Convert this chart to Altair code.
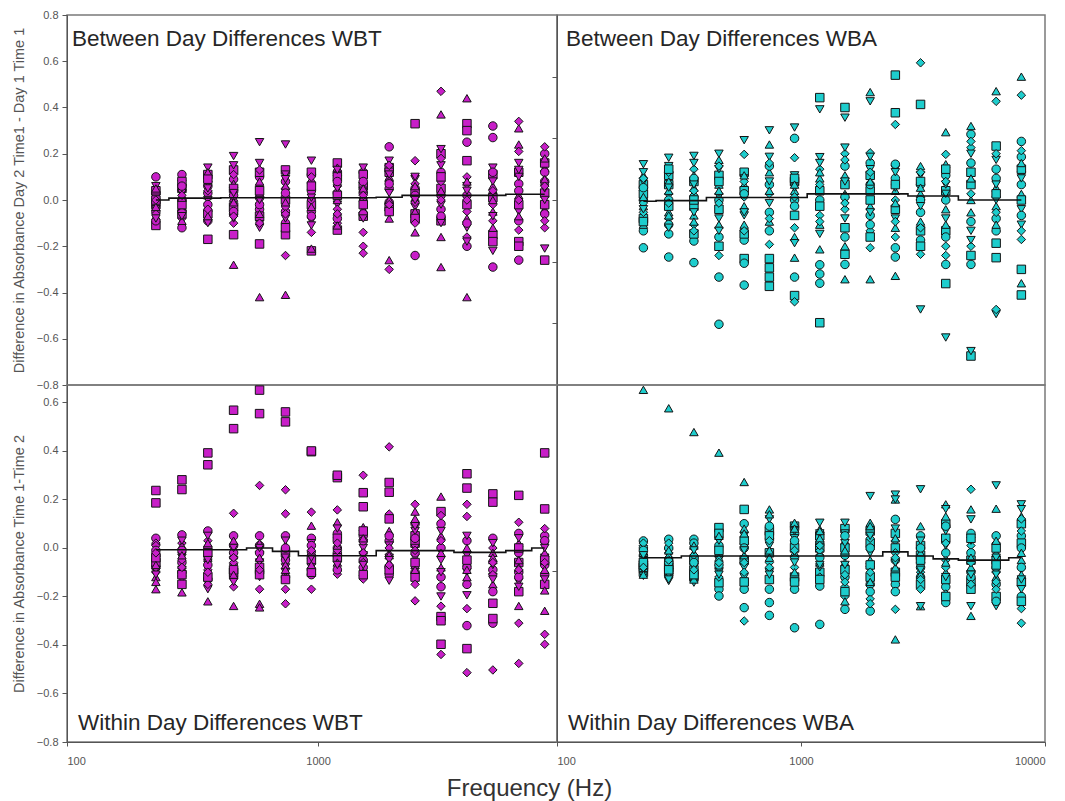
import altair as alt
import pandas as pd

# Test frequencies (Hz), one column of points per frequency
FREQS = [226, 287, 364, 461, 585, 742, 941, 1194, 1514, 1921, 2436, 3090, 3920, 4972, 6306, 8000]

# Marker shape of each subject, repeating every five subjects
SHAPES = ["circle", "square", "triangle-up", "triangle-down", "diamond"]

# Per-frequency differences for 20 subjects (subject j uses SHAPES[j % 5])
WBT_BETWEEN = [
    [0.10, -0.11, 0.02, 0.06, -0.01, 0.03, -0.02, -0.07, -0.04, 0.03, -0.05, 0.04, 0.05, 0.01, -0.06, -0.09, 0.00, -0.03, -0.08, 0.00],
    [0.11, 0.05, -0.03, 0.07, -0.08, -0.12, -0.06, 0.02, -0.01, 0.04, 0.00, 0.08, -0.09, 0.03, -0.05, 0.06, -0.02, 0.01, -0.07, 0.02],
    [0.06, -0.17, 0.02, 0.14, -0.05, -0.09, 0.11, -0.03, -0.10, 0.08, 0.03, -0.06, 0.12, 0.00, 0.04, -0.02, 0.09, -0.07, 0.05, -0.04],
    [0.09, -0.15, -0.28, 0.19, 0.04, -0.06, 0.13, 0.01, 0.15, -0.10, 0.02, -0.03, 0.07, -0.08, 0.11, -0.05, 0.05, -0.01, 0.03, -0.07],
    [0.10, -0.19, -0.42, 0.25, 0.06, -0.04, 0.12, 0.03, 0.16, -0.09, 0.01, -0.07, 0.08, -0.12, 0.13, -0.02, 0.04, -0.06, 0.00, -0.10],
    [0.08, -0.15, -0.41, 0.24, -0.24, -0.05, 0.13, 0.02, 0.11, 0.05, -0.10, 0.00, 0.06, -0.08, -0.03, 0.03, -0.12, -0.01, 0.09, -0.06],
    [0.11, -0.22, -0.21, 0.17, 0.07, -0.05, 0.12, 0.02, -0.09, -0.14, 0.04, -0.02, 0.09, -0.11, 0.00, -0.07, 0.06, -0.03, 0.01, 0.10],
    [0.12, 0.16, -0.05, 0.09, -0.10, 0.03, -0.13, 0.14, -0.02, 0.06, -0.08, 0.10, 0.00, 0.05, -0.04, 0.08, 0.02, -0.11, 0.13, -0.06],
    [0.12, 0.06, -0.04, 0.14, -0.14, 0.03, -0.07, 0.09, -0.01, -0.20, -0.06, 0.11, 0.01, 0.04, -0.23, 0.08, -0.02, 0.05, -0.08, 0.02],
    [0.23, 0.14, -0.26, 0.17, -0.30, 0.05, -0.03, 0.10, -0.06, 0.08, -0.01, 0.12, -0.08, 0.03, 0.15, 0.07, -0.05, 0.00, 0.11, -0.02],
    [-0.24, 0.33, -0.14, 0.09, 0.17, 0.05, -0.06, 0.01, -0.03, 0.07, -0.09, 0.03, -0.05, 0.10, -0.01, 0.02, -0.08, 0.06, 0.00, -0.10],
    [0.12, 0.20, 0.37, 0.15, 0.47, -0.04, 0.05, -0.16, 0.22, 0.08, 0.02, -0.09, -0.29, -0.02, 0.18, -0.07, 0.10, 0.04, -0.10, 0.00],
    [0.25, 0.33, 0.44, 0.06, 0.10, -0.20, 0.30, -0.42, -0.12, -0.05, 0.02, 0.17, -0.08, 0.04, -0.16, -0.10, -0.02, 0.08, -0.18, 0.00],
    [0.32, 0.11, -0.05, 0.14, 0.03, 0.27, -0.15, 0.06, -0.22, -0.09, -0.29, 0.01, -0.12, 0.08, -0.02, 0.12, -0.18, 0.00, -0.07, 0.04],
    [-0.26, -0.18, 0.31, 0.16, 0.34, 0.07, -0.20, 0.24, -0.05, 0.21, -0.09, 0.12, 0.02, 0.10, -0.13, 0.04, -0.02, -0.07, 0.13, 0.00],
    [0.20, -0.26, 0.14, -0.21, 0.23, 0.08, 0.16, -0.04, 0.11, -0.12, -0.06, 0.03, 0.18, 0.05, -0.09, 0.12, -0.02, 0.09, 0.00, 0.06],
]
WBT_BETWEEN_MEAN = [0.0, 0.008, 0.008, 0.01, 0.01, 0.01, 0.01, 0.01, 0.01, 0.012, 0.02, 0.02, 0.02, 0.02, 0.025, 0.025]

WBA_BETWEEN = [
    [-0.155, 0.05, -0.02, 0.116, 0.03, -0.10, -0.06, 0.08, 0.09, -0.04, 0.00, 0.02, -0.08, 0.06, -0.01, 0.04, -0.07, 0.01, -0.03, 0.07],
    [-0.185, 0.08, -0.04, 0.137, 0.02, -0.11, 0.05, 0.03, 0.11, -0.06, -0.08, -0.02, 0.06, -0.09, 0.09, 0.00, 0.10, -0.05, 0.04, -0.01],
    [-0.203, 0.06, -0.05, 0.143, 0.10, -0.133, -0.02, 0.04, 0.12, -0.08, 0.01, -0.11, 0.08, -0.04, 0.03, 0.07, 0.00, -0.07, 0.05, -0.10],
    [-0.403, 0.08, 0.13, 0.15, -0.18, -0.25, -0.03, 0.05, 0.10, 0.02, -0.12, 0.06, -0.08, -0.06, 0.11, 0.00, -0.15, 0.03, -0.10, -0.01],
    [-0.276, -0.19, 0.05, 0.194, 0.148, -0.205, 0.09, -0.02, 0.07, 0.01, -0.13, 0.03, -0.08, -0.05, 0.06, 0.02, -0.11, 0.08, -0.04, -0.10],
    [0.05, -0.19, 0.18, 0.226, -0.144, -0.04, -0.22, 0.09, 0.14, 0.02, 0.11, -0.25, -0.07, 0.06, 0.12, -0.10, -0.28, 0.03, -0.01, -0.06],
    [0.20, 0.06, -0.187, 0.235, 0.137, -0.25, -0.31, 0.03, 0.08, -0.33, 0.00, -0.05, -0.12, 0.04, -0.09, -0.02, 0.07, 0.05, -0.14, 0.01],
    [-0.21, 0.332, -0.16, 0.294, 0.10, -0.24, -0.398, 0.07, 0.139, -0.05, -0.27, 0.03, -0.08, 0.12, 0.05, 0.00, -0.02, 0.09, -0.11, -0.07],
    [-0.209, 0.30, -0.257, 0.267, 0.15, 0.11, 0.05, 0.02, 0.17, -0.03, -0.12, -0.09, 0.08, -0.06, 0.13, 0.01, -0.176, -0.15, 0.06, -0.01],
    [0.12, 0.08, 0.35, 0.32, 0.153, -0.05, 0.03, -0.257, 0.10, -0.10, 0.05, -0.12, -0.02, 0.14, -0.155, -0.08, 0.00, 0.06, -0.04, 0.09],
    [-0.185, 0.405, -0.246, 0.10, 0.245, 0.07, 0.283, 0.03, -0.06, -0.12, 0.116, -0.03, -0.09, 0.04, 0.00, -0.155, 0.05, -0.01, 0.09, -0.07],
    [0.05, 0.31, 0.11, -0.355, 0.445, -0.04, -0.10, 0.02, 0.08, -0.176, -0.13, 0.06, -0.07, -0.01, 0.09, 0.00, -0.15, 0.04, -0.02, -0.09],
    [0.08, -0.271, 0.22, -0.446, 0.148, -0.209, 0.03, 0.116, -0.06, -0.15, 0.00, -0.10, -0.03, 0.05, -0.18, -0.12, 0.10, -0.08, 0.02, 0.06],
    [0.213, -0.506, 0.24, -0.49, 0.17, 0.12, 0.05, -0.04, 0.15, -0.15, -0.209, 0.09, 0.00, -0.10, 0.02, -0.07, -0.18, 0.07, -0.13, 0.19],
    [0.10, 0.175, 0.353, -0.37, 0.32, -0.06, -0.187, 0.04, 0.13, -0.355, 0.07, -0.14, -0.02, 0.00, 0.15, -0.10, 0.02, -0.08, 0.05, -0.04],
    [0.19, -0.225, 0.40, 0.08, 0.34, 0.14, -0.308, -0.27, -0.03, 0.16, 0.05, 0.10, 0.02, -0.08, -0.128, -0.05, 0.00, 0.12, 0.07, -0.10],
]
WBA_BETWEEN_MEAN = [-0.004, -0.002, -0.002, 0.008, 0.008, 0.008, 0.008, 0.02, 0.02, 0.02, 0.02, 0.013, 0.013, 0.0, 0.0, 0.0]

WBT_WITHIN = [
    [0.04, 0.237, -0.17, -0.05, 0.02, -0.08, 0.186, -0.12, 0.00, -0.10, -0.03, -0.06, -0.14, -0.09, 0.01, -0.01, -0.04, -0.07, -0.11, -0.02],
    [0.054, 0.281, -0.183, -0.04, 0.02, -0.10, 0.241, -0.07, -0.13, -0.02, -0.06, -0.15, 0.01, -0.09, -0.05, -0.01, -0.11, -0.03, 0.03, -0.08],
    [0.07, 0.392, -0.22, -0.06, 0.03, -0.13, 0.343, -0.04, -0.17, -0.09, 0.00, -0.02, -0.11, 0.05, -0.15, -0.07, -0.12, 0.02, -0.05, -0.10],
    [0.05, 0.568, -0.239, -0.08, 0.143, -0.12, 0.492, -0.03, -0.05, -0.16, 0.01, -0.10, 0.03, -0.14, -0.06, -0.02, -0.09, -0.11, 0.00, -0.04],
    [0.05, 0.651, -0.23, -0.06, 0.258, -0.10, 0.554, -0.245, -0.03, -0.17, 0.01, -0.08, 0.02, -0.12, -0.05, -0.02, -0.11, -0.04, 0.00, -0.09],
    [0.05, 0.561, -0.03, -0.08, 0.24, -0.12, 0.52, 0.01, -0.10, 0.141, -0.05, -0.02, -0.07, 0.03, -0.17, 0.00, -0.13, -0.09, -0.04, -0.23],
    [0.04, 0.397, 0.092, -0.06, 0.148, -0.09, 0.40, -0.03, 0.02, -0.17, -0.11, -0.05, 0.00, -0.08, -0.02, 0.01, -0.10, -0.07, -0.04, -0.01],
    [0.06, 0.29, 0.106, -0.05, 0.157, -0.02, 0.30, -0.08, 0.03, -0.108, 0.00, -0.04, -0.06, 0.08, -0.01, -0.09, 0.04, 0.01, -0.07, 0.02],
    [0.05, 0.228, 0.086, -0.03, 0.30, -0.08, 0.17, -0.01, 0.02, -0.128, -0.05, 0.07, -0.10, 0.00, -0.06, 0.03, -0.11, 0.04, -0.07, -0.02],
    [0.03, 0.27, 0.07, -0.04, 0.417, -0.08, 0.23, -0.02, 0.01, 0.14, -0.11, 0.12, -0.06, -0.135, 0.00, 0.05, -0.09, -0.03, -0.05, -0.07],
    [0.10, 0.05, 0.15, -0.04, 0.18, -0.10, 0.02, -0.07, 0.07, -0.218, -0.02, -0.12, 0.12, 0.00, -0.15, 0.04, -0.06, -0.09, 0.09, -0.01],
    [0.10, 0.15, 0.212, -0.05, -0.439, -0.12, -0.283, 0.05, -0.20, 0.134, 0.00, -0.30, -0.08, 0.07, -0.24, -0.16, -0.397, -0.02, -0.10, 0.03],
    [0.03, 0.306, -0.06, -0.10, 0.18, -0.15, 0.247, 0.00, -0.03, 0.13, -0.08, -0.415, -0.12, 0.05, -0.25, -0.32, -0.05, -0.09, -0.195, -0.514],
    [0.04, 0.223, -0.05, -0.12, 0.00, -0.09, 0.189, -0.15, 0.02, -0.503, -0.31, -0.228, -0.02, -0.07, -0.11, -0.18, -0.291, -0.04, -0.13, -0.06],
    [0.06, 0.217, -0.239, -0.03, 0.106, -0.10, -0.06, 0.02, -0.14, -0.31, -0.02, -0.18, -0.08, 0.04, -0.476, -0.12, 0.00, -0.05, -0.16, -0.09],
    [0.05, 0.392, -0.259, -0.04, 0.08, -0.11, 0.161, -0.02, 0.01, -0.356, -0.07, -0.15, -0.09, -0.13, -0.397, 0.03, -0.05, -0.175, 0.00, -0.06],
]
WBT_WITHIN_MEAN = [-0.007, -0.007, -0.007, -0.007, 0.0, -0.014, -0.032, -0.032, -0.032, -0.011, -0.011, -0.011, -0.018, -0.018, -0.011, 0.0]

WBA_WITHIN = [
    [0.029, -0.10, 0.652, -0.06, 0.01, -0.03, -0.08, -0.02, -0.115, -0.05, 0.00, -0.07, -0.04, -0.09, 0.02, -0.01, -0.06, -0.11, -0.03, -0.08],
    [0.036, -0.10, 0.576, -0.136, -0.02, -0.05, -0.08, 0.01, -0.12, -0.04, 0.00, -0.07, -0.03, -0.11, 0.02, -0.06, -0.09, -0.01, -0.13, -0.05],
    [0.036, -0.12, 0.478, -0.143, 0.00, -0.04, -0.09, -0.02, -0.07, -0.10, 0.02, -0.05, -0.13, -0.08, -0.03, -0.06, -0.11, 0.01, -0.01, -0.09],
    [-0.17, 0.084, 0.393, -0.05, 0.04, -0.198, 0.06, -0.02, -0.10, -0.08, 0.01, -0.143, -0.04, 0.03, -0.12, -0.07, -0.01, 0.05, -0.11, -0.06],
    [-0.246, 0.159, 0.272, 0.05, -0.301, 0.10, -0.05, 0.08, -0.12, 0.02, -0.17, 0.03, -0.03, -0.08, -0.10, 0.00, -0.14, 0.06, -0.01, -0.06],
    [-0.225, 0.07, 0.159, 0.118, -0.06, -0.278, -0.02, 0.139, -0.10, 0.04, 0.09, -0.13, -0.04, 0.01, -0.08, -0.17, 0.05, -0.01, -0.11, 0.03],
    [-0.329, 0.09, 0.104, -0.05, 0.02, 0.06, -0.12, -0.02, 0.04, -0.08, -0.17, 0.00, -0.10, 0.07, -0.04, 0.03, -0.14, 0.08, -0.06, -0.01],
    [-0.315, 0.05, 0.077, 0.104, -0.03, 0.02, -0.10, -0.06, 0.06, -0.12, -0.157, 0.00, 0.04, -0.08, -0.01, -0.04, -0.13, 0.07, -0.07, 0.01],
    [-0.253, 0.08, 0.03, 0.104, -0.20, -0.12, 0.00, -0.06, 0.06, -0.16, -0.03, -0.09, -0.22, 0.02, -0.14, 0.05, -0.18, -0.01, -0.07, -0.11],
    [-0.26, 0.07, 0.104, 0.214, -0.21, -0.15, 0.02, -0.05, -0.09, 0.04, -0.18, -0.12, 0.09, -0.02, -0.23, 0.00, -0.07, -0.14, 0.05, -0.10],
    [0.118, 0.06, -0.377, 0.22, -0.253, -0.05, -0.10, 0.20, 0.20, 0.03, -0.15, 0.00, -0.08, 0.08, -0.02, -0.18, -0.12, 0.04, -0.06, -0.04],
    [0.05, -0.03, 0.09, 0.242, -0.10, -0.12, 0.01, -0.24, -0.24, -0.06, -0.08, -0.15, -0.02, 0.03, -0.17, 0.00, -0.05, -0.11, -0.09, -0.13],
    [-0.225, 0.10, 0.18, 0.16, -0.05, -0.16, 0.04, -0.10, 0.07, -0.19, -0.02, -0.13, 0.13, 0.01, -0.08, 0.09, -0.20, -0.06, -0.12, 0.02],
    [0.06, -0.05, 0.159, 0.118, 0.242, -0.10, -0.14, -0.28, -0.24, 0.01, -0.02, -0.17, -0.08, 0.03, -0.06, -0.12, 0.04, -0.04, -0.11, -0.15],
    [0.05, -0.05, 0.162, 0.258, -0.10, -0.15, -0.20, -0.02, -0.24, 0.02, -0.08, 0.00, -0.12, -0.04, -0.17, -0.22, -0.07, 0.03, -0.11, -0.14],
    [-0.20, 0.10, 0.13, 0.18, -0.31, 0.05, -0.14, -0.05, 0.16, -0.25, -0.08, 0.02, -0.11, -0.17, 0.07, 0.00, -0.22, -0.02, -0.13, 0.12],
]
WBA_WITHIN_MEAN = [-0.04, -0.04, -0.033, -0.033, -0.033, -0.033, -0.033, -0.033, -0.033, -0.033, -0.016, -0.033, -0.045, -0.05, -0.05, -0.04]

MAGENTA = "#C81EC8"
CYAN = "#1ECDCD"
FONT = "Liberation Sans"
GREY = "#555555"

LEFT_W, RIGHT_W = 490, 488
TOP_H, BOTTOM_H = 370, 357


def points_frame(columns):
    rows = []
    for freq, col in zip(FREQS, columns):
        for j, v in enumerate(col):
            rows.append({"freq": freq, "diff": v, "shape": SHAPES[j % len(SHAPES)]})
    return pd.DataFrame(rows)


def y_axis_left(title, values):
    return alt.Axis(
        values=values, format=".1f", grid=False, title=title,
        labelFont=FONT, labelFontSize=11, labelColor=GREY, labelPadding=4,
        tickSize=5, tickColor=GREY, domainColor=GREY,
        titleFont=FONT, titleFontSize=14.5, titleFontWeight="normal",
        titleColor=GREY, titlePadding=10,
    )


def y_axis_right(values):
    return alt.Axis(values=values, labels=False, title=None, grid=False,
                    tickSize=5, tickColor=GREY, domainColor=GREY)


def x_axis_bottom(values, title=None):
    opts = dict(
        values=values, format="d", grid=False,
        labelFont=FONT, labelFontSize=11, labelColor=GREY, labelPadding=9,
        tickSize=4, tickColor=GREY, domainColor=GREY,
    )
    if title:
        opts.update(title=title, titleFont=FONT, titleFontSize=24,
                    titleFontWeight="normal", titleColor="#333333",
                    titleX=462, titleY=53, titleBaseline="alphabetic")
    else:
        opts.update(title=None)
    return alt.Axis(**opts)


def panel(columns, means, color, label, label_x, label_y,
          x_domain, y_domain, x_axis, y_axis, width, height):
    x_enc = alt.X("freq:Q", scale=alt.Scale(type="log", domain=x_domain, nice=False), axis=x_axis)
    y_enc = alt.Y("diff:Q", scale=alt.Scale(domain=y_domain, nice=False, zero=False), axis=y_axis)
    pts = alt.Chart(points_frame(columns)).mark_point(
        filled=True, fill=color, stroke="#141414", strokeWidth=1.0, size=72, opacity=1
    ).encode(x=x_enc, y=y_enc, shape=alt.Shape("shape:N", scale=None))
    mean_line = alt.Chart(pd.DataFrame({"freq": FREQS, "diff": means})).mark_line(
        color="#111111", strokeWidth=1.6, interpolate="step"
    ).encode(x=x_enc, y=y_enc)
    caption = alt.Chart(pd.DataFrame({"label": [label]})).mark_text(
        align="left", baseline="alphabetic", font=FONT, fontSize=22.5, color="#262626"
    ).encode(text="label:N", x=alt.value(label_x), y=alt.value(label_y))
    return alt.layer(pts, mean_line, caption).properties(width=width, height=height)


top_left = panel(
    WBT_BETWEEN, WBT_BETWEEN_MEAN, MAGENTA, "Between Day Differences WBT", 5, 31,
    [100, 8955], [-0.8, 0.8], None,
    y_axis_left("Difference in Absorbance Day 2 Time1 - Day 1 Time 1",
                [-0.8, -0.6, -0.4, -0.2, 0.0, 0.2, 0.4, 0.6, 0.8]),
    LEFT_W, TOP_H,
)
top_right = panel(
    WBA_BETWEEN, WBA_BETWEEN_MEAN, CYAN, "Between Day Differences WBA", 9, 31,
    [100, 10000], [-0.6, 0.6], None,
    y_axis_right([-0.4, -0.2, 0.0, 0.2, 0.4]),
    RIGHT_W, TOP_H,
)
bottom_left = panel(
    WBT_WITHIN, WBT_WITHIN_MEAN, MAGENTA, "Within Day Differences WBT", 11, 345,
    [100, 8955], [-0.8, 0.672], x_axis_bottom([100, 1000], "Frequency (Hz)"),
    y_axis_left("Difference in Absorbance Time 1-Time 2",
                [-0.8, -0.6, -0.4, -0.2, 0.0, 0.2, 0.4, 0.6]),
    LEFT_W, BOTTOM_H,
)
bottom_right = panel(
    WBA_WITHIN, WBA_WITHIN_MEAN, CYAN, "Within Day Differences WBA", 11, 345,
    [100, 10000], [-0.8, 0.672], x_axis_bottom([100, 1000, 10000]),
    y_axis_right([-0.095]),
    RIGHT_W, BOTTOM_H,
)

chart = alt.concat(
    top_left, top_right, bottom_left, bottom_right,
    columns=2, spacing=0, bounds="flush",
).properties(
    padding={"left": 10, "top": 8, "right": 4, "bottom": 4},
    background="white",
).configure(font=FONT).configure_view(stroke="#7a7a7a", strokeWidth=1.5)

chart.save("out.html", embed_options={"renderer": "svg", "actions": False})
